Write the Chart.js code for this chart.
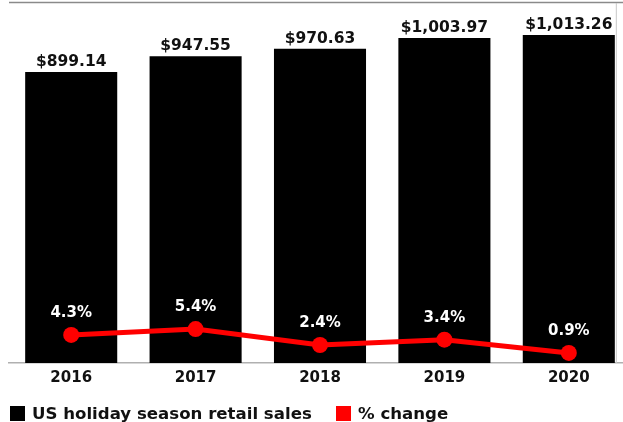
<!DOCTYPE html>
<html>
<head>
<meta charset="utf-8">
<script src="https://cdn.jsdelivr.net/npm/chart.js@4/dist/chart.umd.min.js"></script>
<style>
  html, body { margin:0; padding:0; background:#fff; width:623px; height:422px; overflow:hidden; }
  #wrap { position:relative; width:623px; height:422px; overflow:hidden; }
  #c { position:absolute; left:0; top:0; }
  #legend { position:absolute; left:10px; top:404px; font-family:"DejaVu Sans", sans-serif; font-weight:bold; font-size:16.6px; color:#111; white-space:nowrap; }
  .item { position:absolute; top:0; display:flex; align-items:center; }
  .sw { width:15px; height:15px; margin-right:7px; display:inline-block; }
</style>
</head>
<body>
<div id="wrap">
  <canvas id="c" width="632" height="422" style="width:632px;height:422px"></canvas>
  <div id="legend"></div>
</div>
<script>
const categories = ["2016", "2017", "2018", "2019", "2020"];
const salesValues = [899.14, 947.55, 970.63, 1003.97, 1013.26];
const changeValues = [4.3, 5.4, 2.4, 3.4, 0.9];
const seriesNames = ["US holiday season retail sales", "% change"];
const seriesColors = ["#000000", "#ff0000"];

// HTML legend
const legendEl = document.getElementById('legend');
const legendX = [0, 326];
seriesNames.forEach((n, i) => {
  const d = document.createElement('div');
  d.className = 'item';
  d.style.left = legendX[i] + 'px';
  d.innerHTML = '<span class="sw" style="background:' + seriesColors[i] + '"></span><span>' + n + '</span>';
  legendEl.appendChild(d);
});

const FONT = '"DejaVu Sans", sans-serif';

const labelPlugin = {
  id: 'labels',
  beforeDatasetsDraw(chart) {
    const ctx = chart.ctx;
    const a = chart.chartArea;
    const barMeta = chart.getDatasetMeta(1);
    const last = barMeta.data[barMeta.data.length - 1];
    const rightEdge = last.x + last.width / 2 + 1.5;
    ctx.save();
    ctx.strokeStyle = '#8a8a8a';
    ctx.lineWidth = 1.5;
    ctx.beginPath();
    ctx.moveTo(a.left, 2.5);
    ctx.lineTo(chart.width, 2.5);
    ctx.stroke();
    ctx.strokeStyle = '#c8c8c8';
    ctx.lineWidth = 1;
    ctx.beginPath();
    ctx.moveTo(rightEdge, 3);
    ctx.lineTo(rightEdge, a.bottom);
    ctx.stroke();
    ctx.restore();
  },
  afterDatasetsDraw(chart) {
    const ctx = chart.ctx;
    ctx.save();
    ctx.textAlign = 'center';
    const barMeta = chart.getDatasetMeta(1);
    ctx.font = 'bold 15.5px ' + FONT;
    ctx.fillStyle = '#111';
    ctx.textBaseline = 'alphabetic';
    barMeta.data.forEach((el, i) => {
      const v = salesValues[i].toLocaleString('en-US', {minimumFractionDigits: 2, maximumFractionDigits: 2});
      ctx.fillText('$' + v, el.x, el.y - 6);
    });
    const lineMeta = chart.getDatasetMeta(0);
    ctx.font = 'bold 15px ' + FONT;
    ctx.fillStyle = '#ffffff';
    ctx.textBaseline = 'middle';
    lineMeta.data.forEach((el, i) => {
      ctx.fillText(changeValues[i].toFixed(1) + '%', el.x, el.y - 22);
    });
    ctx.restore();
  }
};

new Chart(document.getElementById('c'), {
  data: {
    labels: categories,
    datasets: [
      {
        type: 'line',
        label: seriesNames[1],
        data: changeValues,
        yAxisID: 'y2',
        borderColor: seriesColors[1],
        backgroundColor: seriesColors[1],
        borderWidth: 5,
        pointRadius: 8,
        pointBackgroundColor: seriesColors[1],
        pointBorderWidth: 0,
        tension: 0,
        clip: false,
        order: 0
      },
      {
        type: 'bar',
        label: seriesNames[0],
        data: salesValues,
        yAxisID: 'y',
        backgroundColor: seriesColors[0],
        barPercentage: 0.74,
        categoryPercentage: 1.0,
        order: 1
      }
    ]
  },
  options: {
    responsive: false,
    animation: false,
    devicePixelRatio: 1,
    layout: { autoPadding: false, padding: { left: 9, right: 1, top: 3, bottom: 29 } },
    plugins: { legend: { display: false }, tooltip: { enabled: false } },
    scales: {
      x: {
        grid: { display: false, drawTicks: false },
        border: { display: true, color: '#b0b0b0', width: 1.5 },
        ticks: { color: '#111', font: { family: FONT, weight: 'bold', size: 15 }, padding: 6 },
        afterFit(s) { s.height = 30; }
      },
      y: { display: false, min: 0, max: 1112 },
      y2: { display: false, min: -1, max: 67 }
    }
  },
  plugins: [labelPlugin]
});
</script>
</body>
</html>
